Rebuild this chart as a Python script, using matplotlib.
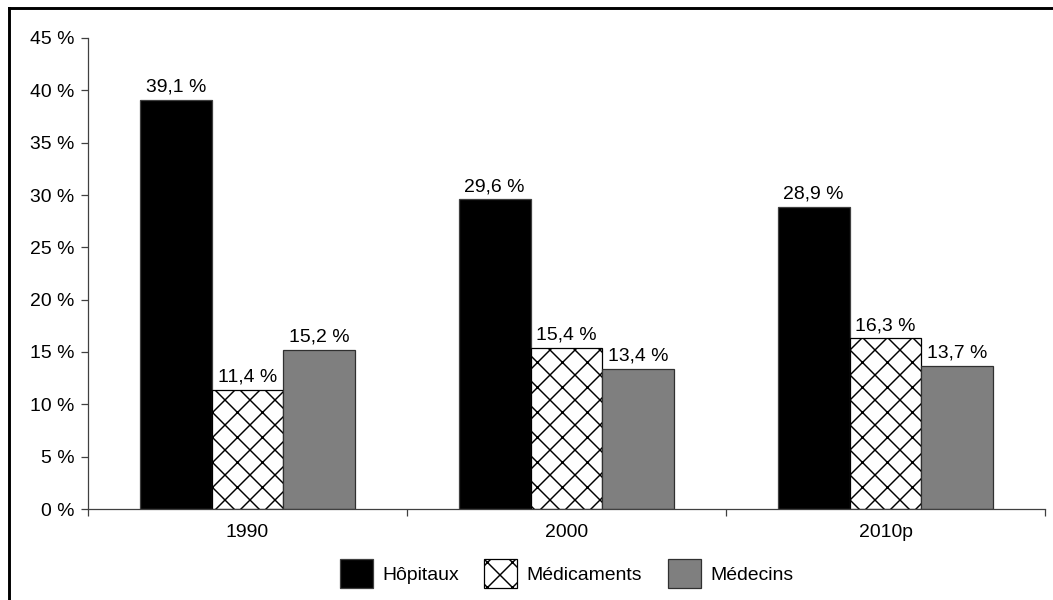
import numpy as np
import matplotlib.pyplot as plt
from matplotlib.lines import Line2D

# Données (part des dépenses de santé, en %)
annees = ["1990", "2000", "2010p"]
hopitaux = [39.1, 29.6, 28.9]
medicaments = [11.4, 15.4, 16.3]
medecins = [15.2, 13.4, 13.7]
series = ["Hôpitaux", "Médicaments", "Médecins"]
yticks = [0, 5, 10, 15, 20, 25, 30, 35, 40, 45]

plt.rcParams['font.family'] = ['Liberation Sans', 'DejaVu Sans']
plt.rcParams['hatch.linewidth'] = 0.7
fs = 9.3

fig = plt.figure(figsize=(1053 / 150, 600 / 150), dpi=150)
ax = fig.add_axes([88 / 1053, 1 - 509 / 600, 957 / 1053, 471 / 600])

x = np.arange(len(annees))
w = 0.225
styles = [
    dict(color='black', edgecolor='#404040'),
    dict(color='white', edgecolor='black', hatch='xx'),
    dict(color='#7f7f7f', edgecolor='#303030'),
]
for i, (vals, name, st) in enumerate(zip([hopitaux, medicaments, medecins], series, styles)):
    bars = ax.bar(x + (i - 1) * w, vals, w, label=name, linewidth=0.6, **st)
    for b, v in zip(bars, vals):
        ax.text(b.get_x() + b.get_width() / 2, v + 0.4, f"{v:.1f} %".replace('.', ','),
                ha='center', va='bottom', fontsize=fs)

ax.set_xlim(-0.5, len(annees) - 0.5)
ax.set_ylim(0, 45)
ax.set_yticks(yticks)
ax.set_yticklabels([f"{t} %" for t in yticks], fontsize=fs)
ax.set_xticks(np.arange(len(annees) + 1) - 0.5)
ax.set_xticklabels([])
ax.set_xticks(x, minor=True)
ax.set_xticklabels(annees, minor=True, fontsize=fs)
ax.tick_params(axis='x', which='major', length=3.5, width=0.6, color='#404040')
ax.tick_params(axis='x', which='minor', length=0, pad=7)
ax.tick_params(axis='y', length=3.5, width=0.6, color='#404040', pad=3)

for s in ['top', 'right']:
    ax.spines[s].set_visible(False)
for s in ['left', 'bottom']:
    ax.spines[s].set_linewidth(0.6)
    ax.spines[s].set_color('#404040')

ax.legend(loc='upper center', bbox_to_anchor=(0.5, -0.07), ncol=3, frameon=False,
          fontsize=fs, handlelength=1.7, handleheight=1.9, handletextpad=0.5,
          columnspacing=1.3)

# cadre noir (haut et gauche visibles)
fig.add_artist(Line2D([9 / 1053, 1.0], [1 - 8 / 600, 1 - 8 / 600], color='black', linewidth=1.4))
fig.add_artist(Line2D([9 / 1053, 9 / 1053], [0.0, 1 - 8 / 600], color='black', linewidth=1.4))

fig.savefig('out.png', dpi=150)
